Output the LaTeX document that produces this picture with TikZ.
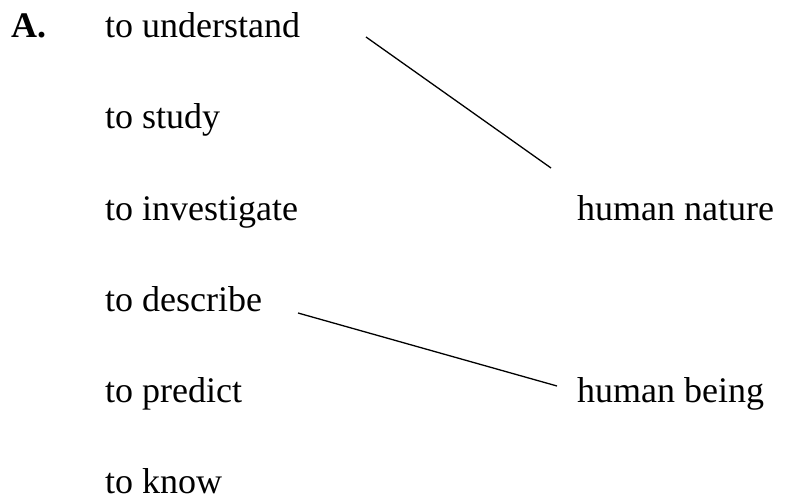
\documentclass[tikz,border=0pt]{standalone}
\usepackage{fontspec}
\setmainfont{Liberation Serif}
\begin{document}
\begin{tikzpicture}[x=1pt,y=-1pt,
  lbl/.style={anchor=base west,inner sep=0pt,font=\fontsize{36}{36}\selectfont},
  link/.style={draw=black,line width=1.3pt}]
\useasboundingbox (0,0) rectangle (786,497);
\node[lbl,font=\fontsize{36}{36}\selectfont\bfseries] (A) at (11,38) {A.};
\node[lbl] (u) at (105,38) {to understand};
\node[lbl] (s) at (105,129) {to study};
\node[lbl] (i) at (105,220) {to investigate};
\node[lbl] (d) at (105,311) {to describe};
\node[lbl] (p) at (105,402) {to predict};
\node[lbl] (k) at (105,493) {to know};
\node[lbl] (hn) at (577,220) {human nature};
\node[lbl] (hb) at (577,402) {human being};
\coordinate (l1a) at (366,37);
\coordinate (l1b) at (551,168);
\coordinate (l2a) at (298,313);
\coordinate (l2b) at (557,386);
\draw[link] (l1a) -- (l1b);
\draw[link] (l2a) -- (l2b);
\end{tikzpicture}
\end{document}
